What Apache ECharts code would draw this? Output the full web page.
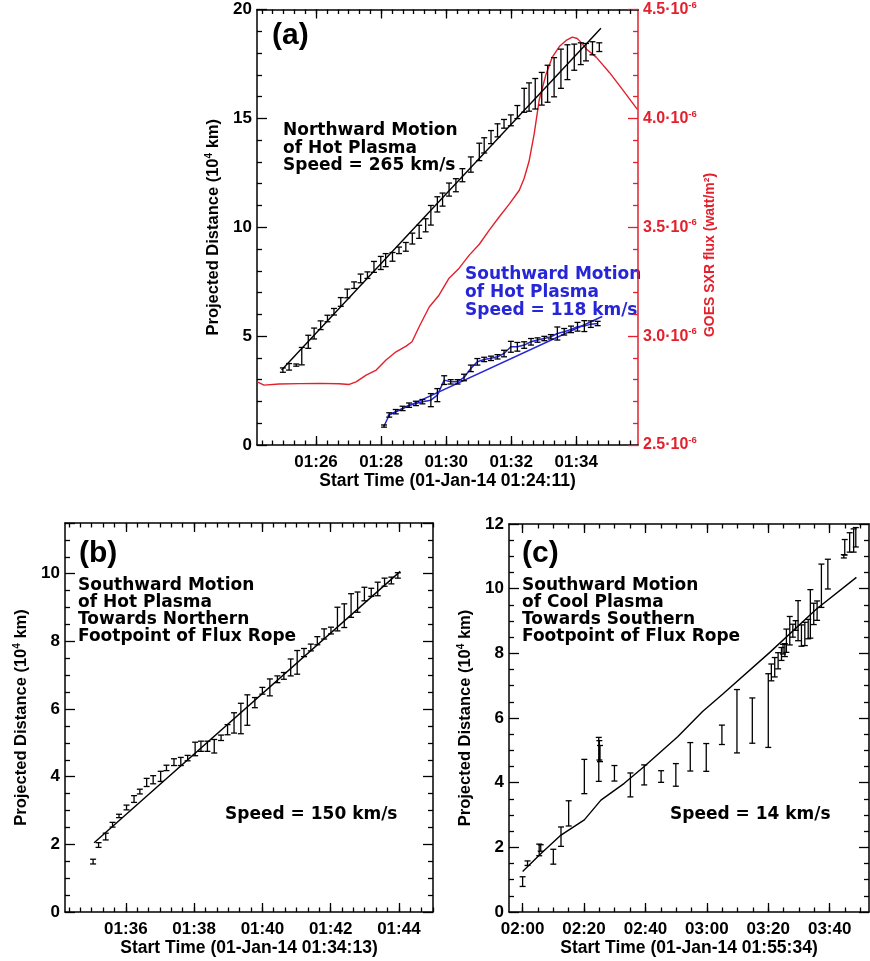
<!DOCTYPE html>
<html>
<head>
<meta charset="utf-8">
<script src="https://cdn.jsdelivr.net/npm/echarts@6/dist/echarts.min.js"></script>
<style>
  html, body { margin: 0; padding: 0; background: #fff; }
  #chart { width: 870px; height: 961px; }
</style>
</head>
<body>
<div id="chart"></div>
<script>
// Times are minutes after 00:00 UT on 01-Jan-14; distances in 10^4 km.

// --- panel (a): northward motion of hot plasma ---
const northT = [84.98, 85.17, 85.39, 85.56, 85.76, 85.94, 86.14, 86.35, 86.55, 86.76,
  86.96, 87.17, 87.37, 87.58, 87.78, 87.99, 88.14, 88.35, 88.55, 88.76,
  88.96, 89.17, 89.37, 89.53, 89.73, 89.89, 90.09, 90.30, 90.50, 90.76,
  91.02, 91.17, 91.38, 91.58, 91.78, 91.99, 92.19, 92.40, 92.55, 92.74,
  92.94, 93.12, 93.32, 93.53, 93.73, 93.94, 94.14, 94.30, 94.50, 94.71];
const northD = [3.44, 3.59, 3.67, 4.08, 4.74, 5.12, 5.50, 5.81, 6.12, 6.57,
  6.96, 7.34, 7.65, 7.80, 8.18, 8.36, 8.49, 8.64, 8.94, 9.10,
  9.48, 9.79, 10.09, 10.55, 11.05, 11.27, 11.73, 11.93, 12.39, 12.88,
  13.46, 13.76, 14.14, 14.45, 14.75, 14.91, 15.29, 15.83, 15.98, 16.13,
  16.36, 16.59, 16.89, 17.28, 17.58, 17.81, 17.97, 18.04, 18.22, 18.27];
const northErr = [0.1, 0.15, 0.05, 0.4, 0.3, 0.25, 0.2, 0.15, 0.15, 0.2,
  0.2, 0.15, 0.2, 0.15, 0.25, 0.3, 0.3, 0.2, 0.15, 0.2,
  0.25, 0.3, 0.3, 0.45, 0.35, 0.3, 0.3, 0.3, 0.3, 0.35,
  0.4, 0.35, 0.3, 0.3, 0.2, 0.25, 0.3, 0.55, 0.65, 0.7,
  0.75, 0.85, 0.9, 0.9, 0.8, 0.6, 0.5, 0.4, 0.3, 0.2];
const northFitT = [84.94, 94.76];
const northFitD = [3.44, 19.14];

// southward motion (blue)
const southT = [88.09, 88.25, 88.45, 88.66, 88.86, 89.07, 89.27, 89.53, 89.73, 89.94,
  90.14, 90.35, 90.55, 90.76, 90.96, 91.17, 91.38, 91.58, 91.78, 91.99,
  92.19, 92.40, 92.61, 92.81, 93.02, 93.22, 93.42, 93.63, 93.84, 94.04,
  94.25, 94.45, 94.66];
const southD = [0.87, 1.38, 1.53, 1.68, 1.83, 1.91, 1.99, 2.06, 2.29, 2.98,
  2.90, 2.90, 3.10, 3.52, 3.82, 3.93, 3.98, 4.05, 4.20, 4.51,
  4.51, 4.59, 4.74, 4.82, 4.89, 4.97, 5.12, 5.20, 5.31, 5.43,
  5.46, 5.55, 5.58];
const southErr = [0.05, 0.1, 0.1, 0.1, 0.1, 0.1, 0.1, 0.3, 0.3, 0.2,
  0.1, 0.1, 0.15, 0.15, 0.15, 0.1, 0.1, 0.1, 0.15, 0.25,
  0.2, 0.15, 0.15, 0.1, 0.1, 0.1, 0.3, 0.15, 0.15, 0.2,
  0.25, 0.15, 0.1];
const southFitT = [88.2, 94.8];
const southFitD = [1.35, 5.9];

// GOES SXR flux, units of 1e-6 W/m^2
const goesT = [84.19, 84.40, 84.86, 85.48, 86.09, 86.71, 87.02, 87.23, 87.54, 87.85,
  88.15, 88.46, 88.77, 88.95, 89.17, 89.48, 89.78, 90.09, 90.40, 90.71,
  91.02, 91.32, 91.63, 91.94, 92.25, 92.40, 92.55, 92.71, 92.86, 93.07,
  93.26, 93.48, 93.69, 93.88, 94.03, 94.15, 94.31, 94.62, 95.02, 95.42, 95.88];
const goesFlux = [2.790, 2.775, 2.780, 2.782, 2.783, 2.781, 2.778, 2.790, 2.821, 2.844,
  2.890, 2.928, 2.954, 2.974, 3.043, 3.134, 3.188, 3.266, 3.312, 3.372,
  3.422, 3.486, 3.547, 3.606, 3.670, 3.725, 3.803, 3.931, 4.083, 4.202,
  4.280, 4.330, 4.358, 4.373, 4.367, 4.349, 4.319, 4.280, 4.211, 4.133, 4.041];

// --- panel (b) ---
const bT = [95.04, 95.20, 95.41, 95.61, 95.80, 96.02, 96.24, 96.41, 96.61, 96.80,
  97.02, 97.19, 97.41, 97.61, 97.81, 98.03, 98.20, 98.39, 98.59, 98.79,
  98.98, 99.17, 99.37, 99.56, 99.78, 100.00, 100.22, 100.44, 100.63, 100.83,
  101.02, 101.22, 101.42, 101.61, 101.81, 102.01, 102.20, 102.40, 102.60, 102.79,
  102.99, 103.19, 103.38, 103.58, 103.78, 103.97];
const bD = [1.49, 1.98, 2.23, 2.58, 2.84, 3.09, 3.34, 3.56, 3.83, 3.91,
  4.01, 4.26, 4.43, 4.45, 4.55, 4.82, 4.90, 4.90, 4.90, 5.15,
  5.39, 5.59, 5.72, 5.97, 6.19, 6.54, 6.64, 6.88, 6.98, 7.23,
  7.38, 7.67, 7.82, 8.02, 8.22, 8.32, 8.66, 8.76, 9.06, 9.16,
  9.40, 9.45, 9.55, 9.75, 9.80, 9.95];
const bErr = [0.07, 0.07, 0.1, 0.07, 0.05, 0.07, 0.1, 0.07, 0.12, 0.12,
  0.15, 0.08, 0.1, 0.12, 0.08, 0.2, 0.15, 0.15, 0.2, 0.08,
  0.15, 0.3, 0.45, 0.45, 0.15, 0.1, 0.25, 0.1, 0.1, 0.25,
  0.35, 0.12, 0.1, 0.12, 0.15, 0.1, 0.35, 0.35, 0.35, 0.3,
  0.2, 0.12, 0.2, 0.12, 0.1, 0.08];
const bFitT = [95.07, 104.04];
const bFitD = [2.05, 10.07];

// --- panel (c) ---
const cT = [120.0, 121.6, 125.4, 125.9, 130.0, 132.5, 135.0, 140.1, 144.8, 145.0,
  145.2, 149.9, 155.1, 159.6, 165.1, 169.9, 174.6, 179.8, 184.9, 189.8,
  194.8, 200.0, 201.0, 202.1, 203.2, 204.3, 204.8, 205.4, 205.9, 207.0,
  208.0, 208.9, 209.7, 210.8, 211.9, 213.0, 213.7, 214.8, 215.9, 217.3,
  219.4, 224.6, 224.9, 226.5, 227.8, 228.5];
const cD = [0.94, 1.51, 1.92, 1.98, 1.71, 2.33, 3.05, 4.19, 4.72, 5.00,
  4.90, 4.29, 3.93, 4.24, 4.19, 4.24, 4.80, 4.78, 5.48, 5.90,
  5.92, 6.23, 7.41, 7.57, 7.77, 7.98, 8.13, 8.10, 8.39, 8.70,
  8.70, 8.86, 9.01, 8.55, 8.60, 8.75, 9.22, 9.22, 9.32, 10.09,
  10.45, 11.00, 11.28, 11.43, 11.49, 11.59];
const cErr = [0.15, 0.07, 0.18, 0.1, 0.23, 0.3, 0.39, 0.53, 0.68, 0.3,
  0.25, 0.24, 0.37, 0.31, 0.18, 0.35, 0.44, 0.43, 0.3, 0.98,
  0.7, 1.14, 0.26, 0.3, 0.25, 0.2, 0.15, 0.2, 0.36, 0.44,
  0.2, 0.15, 0.62, 0.33, 0.36, 0.3, 0.75, 0.33, 0.3, 0.67,
  0.46, 0.05, 0.24, 0.3, 0.36, 0.3];
const cFitT = [120, 126, 132.5, 140.1, 145.5, 153.1, 159.6, 170.5, 178.6, 185.2, 200.5, 215.7, 228.7];
const cFitD = [1.25, 1.81, 2.38, 2.85, 3.46, 3.98, 4.50, 5.42, 6.20, 6.74, 8.03, 9.37, 10.35];

// axis ticks (minutes after 00:00)
const aMajor = [86, 88, 90, 92, 94];
const bMajor = [96, 98, 100, 102, 104];
const cMajor = [120, 140, 160, 180, 200, 220];
const goesTicks = ['2.5', '3.0', '3.5', '4.0', '4.5'];

// ---------------------------------------------------------------
const RED = '#e3202c';
const BLUE = '#2626d8';
const TICK_FONT = { fontFamily: 'Liberation Sans', fontWeight: 'bold', fontSize: 17, color: '#000' };
const TITLE_FONT = { fontFamily: 'Liberation Sans', fontWeight: 'bold', fontSize: 17.5, color: '#000' };
const axLine = { color: '#000', width: 1.5 };
const tkLine = { color: '#000', width: 1.3 };

function hhmm(v) {
  const h = Math.floor(v / 60 + 1e-6);
  const m = Math.round(v - h * 60);
  return String(h).padStart(2, '0') + ':' + String(m).padStart(2, '0');
}

function stepTicks(min, max, step) {
  const out = [];
  for (let v = Math.ceil(min / step - 1e-6) * step; v <= max + 1e-6; v += step) out.push(+v.toFixed(4));
  return out;
}

function xAxesFor(g, min, max, majors, minorStep, title, gap) {
  const minors = stepTicks(min, max, minorStep);
  const base = { gridIndex: g, type: 'value', min: min, max: max, splitLine: { show: false } };
  return [
    Object.assign({}, base, {
      position: 'bottom',
      axisLine: { show: true, onZero: false, lineStyle: axLine },
      axisTick: { show: true, inside: true, length: 9, customValues: majors, lineStyle: tkLine },
      axisLabel: Object.assign({ show: true, customValues: majors, formatter: hhmm, margin: 9 }, TICK_FONT),
      name: title, nameLocation: 'middle', nameGap: gap, nameTextStyle: TITLE_FONT
    }),
    Object.assign({}, base, {
      position: 'bottom',
      axisLine: { show: false, onZero: false },
      axisTick: { show: true, inside: true, length: 4.5, customValues: minors, lineStyle: tkLine },
      axisLabel: { show: false }
    }),
    Object.assign({}, base, {
      position: 'top',
      axisLine: { show: true, onZero: false, lineStyle: axLine },
      axisTick: { show: true, inside: true, length: 9, customValues: majors, lineStyle: tkLine },
      axisLabel: { show: false }
    }),
    Object.assign({}, base, {
      position: 'top',
      axisLine: { show: false, onZero: false },
      axisTick: { show: true, inside: true, length: 4.5, customValues: minors, lineStyle: tkLine },
      axisLabel: { show: false }
    })
  ];
}

const distName = '{t|Projected Distance (10}{s|4}{t| km)}';
const distRich = {
  t: { fontFamily: 'Liberation Sans', fontWeight: 'bold', fontSize: 16.5, color: '#000' },
  s: { fontFamily: 'Liberation Sans', fontWeight: 'bold', fontSize: 10, color: '#000', padding: [0, 0, 8, 0] }
};

function yLeft(g, max, interval, minorSplit, showMax) {
  return {
    gridIndex: g, type: 'value', position: 'left', min: 0, max: max, interval: interval,
    splitLine: { show: false },
    axisLine: { show: true, onZero: false, lineStyle: axLine },
    axisTick: { show: true, inside: true, length: 10, lineStyle: tkLine },
    minorTick: { show: true, splitNumber: minorSplit, length: 5, lineStyle: tkLine },
    axisLabel: Object.assign({ margin: 5, showMaxLabel: showMax }, TICK_FONT),
    name: distName, nameLocation: 'middle', nameGap: 35, nameRotate: 90,
    nameTextStyle: { rich: distRich }
  };
}
function yRightMirror(g, max, interval, minorSplit) {
  return {
    gridIndex: g, type: 'value', position: 'right', min: 0, max: max, interval: interval,
    splitLine: { show: false },
    axisLine: { show: true, onZero: false, lineStyle: axLine },
    axisTick: { show: true, inside: true, length: 10, lineStyle: tkLine },
    minorTick: { show: true, splitNumber: minorSplit, length: 5, lineStyle: tkLine },
    axisLabel: { show: false }
  };
}

function errRender(params, api) {
  const x = api.value(0), y = api.value(1), e = api.value(2);
  const hi = api.coord([x, y + e]);
  const lo = api.coord([x, y - e]);
  const hw = 3;
  const st = { stroke: '#000', lineWidth: 1.3 };
  return {
    type: 'group',
    children: [
      { type: 'line', shape: { x1: hi[0], y1: hi[1], x2: lo[0], y2: lo[1] }, style: st },
      { type: 'line', shape: { x1: hi[0] - hw, y1: hi[1], x2: hi[0] + hw, y2: hi[1] }, style: st },
      { type: 'line', shape: { x1: lo[0] - hw, y1: lo[1], x2: lo[0] + hw, y2: lo[1] }, style: st }
    ]
  };
}
function errSeries(xi, yi, T, D, E) {
  return {
    type: 'custom', xAxisIndex: xi, yAxisIndex: yi, silent: true, z: 4,
    data: T.map((t, i) => [t, D[i], E[i]]),
    encode: { x: 0, y: 1 },
    renderItem: errRender
  };
}
function lineSeries(xi, yi, T, D, color, width, z) {
  return {
    type: 'line', xAxisIndex: xi, yAxisIndex: yi, silent: true, z: z || 3,
    data: T.map((t, i) => [t, D[i]]),
    symbol: 'none', showSymbol: false,
    lineStyle: { color: color, width: width }
  };
}

function textLines(x, y0, dy, lines, font, color) {
  return lines.map((s, i) => ({
    type: 'text', x: x, y: y0 + i * dy, silent: true,
    style: { text: s, font: font, fill: color, align: 'left', verticalAlign: 'middle' }
  }));
}

const aFont = 'bold 17px "DejaVu Sans"';
const bcFont = 'bold 17px "DejaVu Sans"';
const tagFont = 'bold 30px "Liberation Sans"';

const option = {
  animation: false,
  backgroundColor: '#fff',
  grid: [
    { left: 257, top: 9, width: 381, height: 436 },
    { left: 65, top: 523, width: 368, height: 389 },
    { left: 509, top: 524, width: 360, height: 388 }
  ],
  xAxis: [].concat(
    xAxesFor(0, 84 + 11 / 60, 95.9, aMajor, 1 / 3, 'Start Time (01-Jan-14 01:24:11)', 26),
    xAxesFor(1, 94 + 13 / 60, 105.0, bMajor, 1 / 3, 'Start Time (01-Jan-14 01:34:13)', 27),
    xAxesFor(2, 115 + 34 / 60, 232.8, cMajor, 5, 'Start Time (01-Jan-14 01:55:34)', 27)
  ),
  yAxis: [
    yLeft(0, 20, 5, 5, true),
    {
      gridIndex: 0, type: 'value', position: 'right', min: 2.5, max: 4.5, interval: 0.5,
      splitLine: { show: false },
      axisLine: { show: true, onZero: false, lineStyle: { color: RED, width: 1.5 } },
      axisTick: { show: true, inside: true, length: 10, lineStyle: { color: RED, width: 1.3 } },
      minorTick: { show: true, splitNumber: 5, length: 5, lineStyle: { color: RED, width: 1.3 } },
      axisLabel: {
        margin: 5,
        formatter: v => '{m|' + goesTicks[Math.round((v - 2.5) / 0.5)] + '·10}{s|-6}',
        rich: {
          m: { fontFamily: 'Liberation Sans', fontWeight: 'bold', fontSize: 16, color: RED },
          s: { fontFamily: 'Liberation Sans', fontWeight: 'bold', fontSize: 9.5, color: RED, padding: [0, 0, 9, 0] }
        }
      }
    },
    yLeft(1, 11.5, 2, 4, false),
    yRightMirror(1, 11.5, 2, 4),
    yLeft(2, 12, 2, 4, true),
    yRightMirror(2, 12, 2, 4)
  ],
  series: [
    lineSeries(0, 1, goesT, goesFlux, RED, 1.4, 2),
    lineSeries(0, 0, northFitT, northFitD, '#000', 1.4, 3),
    errSeries(0, 0, northT, northD, northErr),
    lineSeries(0, 0, southFitT, southFitD, BLUE, 1.5, 3),
    lineSeries(0, 0, southT, southD, BLUE, 1.5, 3),
    errSeries(0, 0, southT, southD, southErr),
    lineSeries(4, 2, bFitT, bFitD, '#000', 1.4, 3),
    errSeries(4, 2, bT, bD, bErr),
    lineSeries(8, 4, cFitT, cFitD, '#000', 1.4, 3),
    errSeries(8, 4, cT, cD, cErr)
  ],
  graphic: [].concat(
    [{ type: 'text', x: 272, y: 36, silent: true, style: { text: '(a)', font: tagFont, fill: '#000', verticalAlign: 'middle' } }],
    textLines(283, 131, 17.5, ['Northward Motion', 'of Hot Plasma', 'Speed = 265 km/s'], aFont, '#000'),
    textLines(465, 275, 18, ['Southward Motion', 'of Hot Plasma', 'Speed = 118 km/s'], aFont, BLUE),
    [{
      type: 'text', x: 710, y: 255, rotation: Math.PI / 2, silent: true,
      style: { text: 'GOES SXR flux (watt/m²)', font: 'bold 14px "Liberation Sans"', fill: RED, align: 'center', verticalAlign: 'middle' }
    }],
    [{ type: 'text', x: 79, y: 554, silent: true, style: { text: '(b)', font: tagFont, fill: '#000', verticalAlign: 'middle' } }],
    textLines(78, 586, 17, ['Southward Motion', 'of Hot Plasma', 'Towards Northern', 'Footpoint of Flux Rope'], bcFont, '#000'),
    textLines(225, 815, 0, ['Speed = 150 km/s'], bcFont, '#000'),
    [{ type: 'text', x: 522, y: 554, silent: true, style: { text: '(c)', font: tagFont, fill: '#000', verticalAlign: 'middle' } }],
    textLines(522, 586, 17, ['Southward Motion', 'of Cool Plasma', 'Towards Southern', 'Footpoint of Flux Rope'], bcFont, '#000'),
    textLines(670, 815, 0, ['Speed = 14 km/s'], bcFont, '#000')
  )
};

const chart = echarts.init(document.getElementById('chart'), null, { renderer: 'canvas' });
chart.setOption(option);
</script>
</body>
</html>
